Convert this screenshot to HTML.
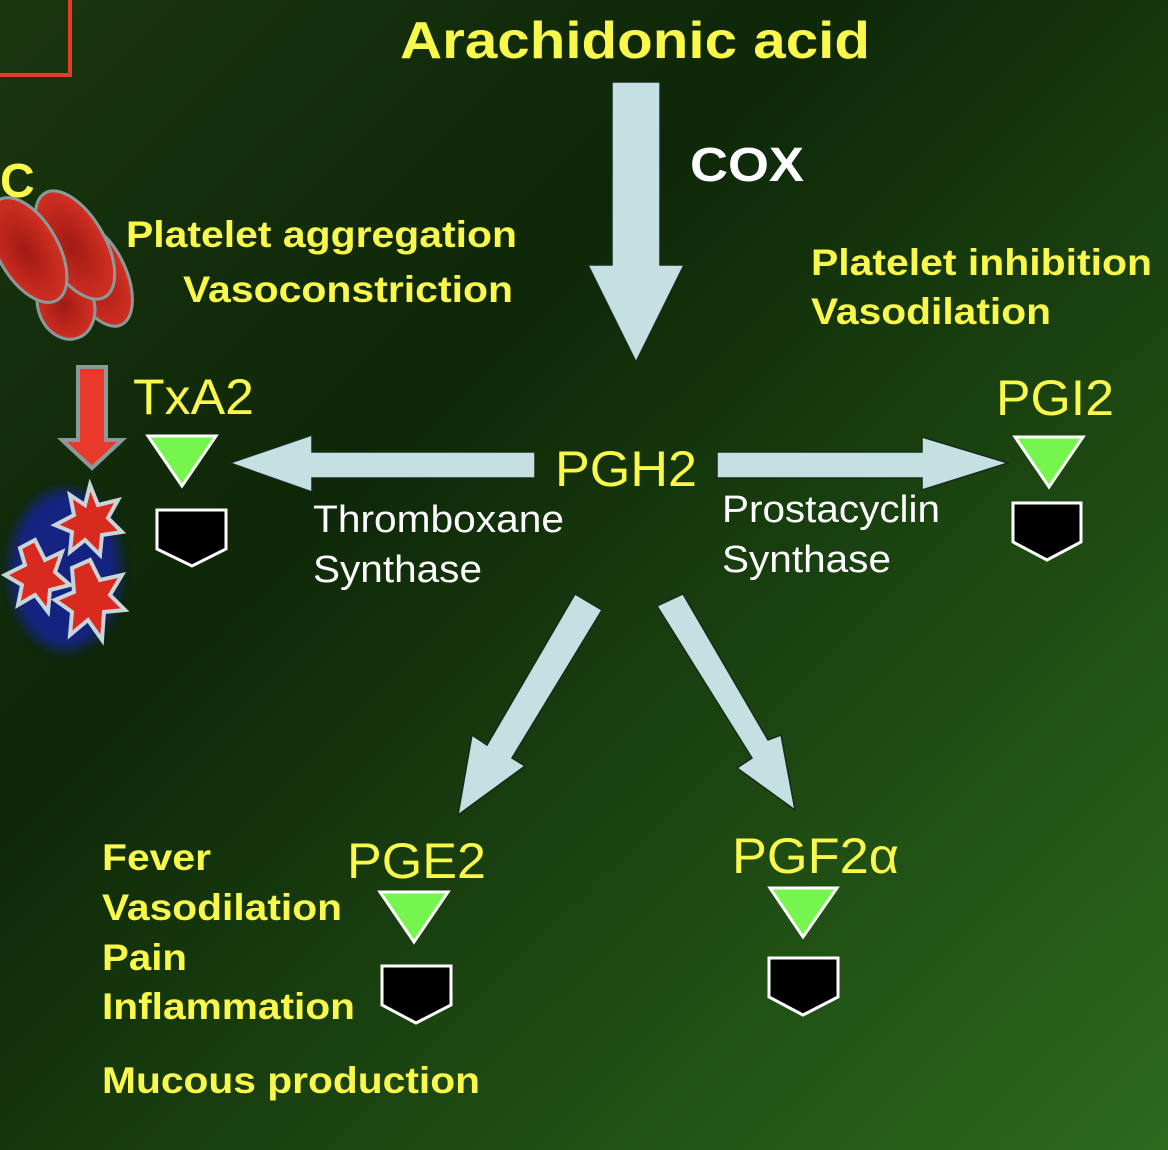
<!DOCTYPE html>
<html><head><meta charset="utf-8"><style>
html,body{margin:0;padding:0;width:1168px;height:1150px;overflow:hidden}
svg{display:block}
text{font-family:"Liberation Sans",sans-serif}
.y{fill:#f9f84b}.w{fill:#fff}.b{font-weight:bold}
</style></head><body>
<svg width="1168" height="1150" viewBox="0 0 1168 1150" xmlns="http://www.w3.org/2000/svg">
<defs>
<linearGradient id="bg" x1="0" y1="0" x2="1" y2="1">
<stop offset="0" stop-color="#1a360f"/><stop offset="0.35" stop-color="#0e2708"/><stop offset="1" stop-color="#2c6a1c"/>
</linearGradient>
<radialGradient id="rbc" cx="0.45" cy="0.5" r="0.6"><stop offset="0" stop-color="#a01a14"/><stop offset="1" stop-color="#d93324"/></radialGradient>
<filter id="blur"><feGaussianBlur stdDeviation="6"/></filter>
</defs>
<rect width="1168" height="1150" fill="url(#bg)"/>
<rect x="-5" y="-5" width="75" height="80" fill="none" stroke="#e8392a" stroke-width="4"/>
<g stroke="#1a2a1a" stroke-width="1.5" fill="#c4e0e2">
<polygon points="612,82 660,82 660,265 684,265 636,362 588,265 612,265"/>
<polygon points="535,452 535,478 312,478 312,492 230,463 312,435 312,452"/>
<polygon points="717,452 717,478 922,478 922,490 1008,463 922,437 922,452"/>
<polygon points="575,594 602,610 512,758 525,766 458,815 472,735 487,745"/>
<polygon points="657,606 683,594 768,740 781,735 795,810 737,768 752,758"/>
</g>
<!-- RBCs -->
<g stroke="#8a9a9a" stroke-width="3" fill="url(#rbc)">
<ellipse cx="98" cy="275" rx="28" ry="55" transform="rotate(-25 98 275)"/>
<ellipse cx="66" cy="305" rx="28" ry="35" transform="rotate(-20 66 305)"/>
<ellipse cx="75" cy="245" rx="30" ry="60" transform="rotate(-30 75 245)"/>
<ellipse cx="28" cy="250" rx="30" ry="58" transform="rotate(-30 28 250)"/>
</g>
<text x="0" y="197" class="y b" font-size="48">C</text>
<polygon points="78,367 106,367 106,440 122,440 92,468 62,440 78,440" fill="#e8392a" stroke="#8a9a9a" stroke-width="4"/>
<!-- platelets -->
<ellipse cx="65" cy="570" rx="55" ry="80" fill="#1520a0" filter="url(#blur)" opacity="0.8"/>
<g fill="#d92a20" stroke="#c8d4d8" stroke-width="4">
<polygon points="90,485 98,505 118,500 108,518 122,532 102,535 100,555 85,540 70,552 72,532 55,525 74,515 70,495 85,505"/>
<polygon points="35,540 45,560 62,552 55,572 70,585 50,590 48,612 35,595 18,605 22,585 5,575 25,565 20,548"/>
<polygon points="90,560 100,580 122,575 110,595 125,610 104,612 102,640 88,620 70,635 72,612 55,600 74,592 72,568"/>
</g>
<!-- receptors -->
<g stroke="#fff" stroke-width="3">
<polygon points="148,436 216,436 182,486" fill="#76f54e"/>
<polygon points="157,510 226,510 226,549 192,566 157,549" fill="#000"/>
<polygon points="1015,437 1083,437 1049,487" fill="#76f54e"/>
<polygon points="1013,503 1081,503 1081,542 1047,560 1013,542" fill="#000"/>
<polygon points="380,892 448,892 414,942" fill="#76f54e"/>
<polygon points="382,966 451,966 451,1005 416,1023 382,1005" fill="#000"/>
<polygon points="770,888 837,888 803,937" fill="#76f54e"/>
<polygon points="769,958 838,958 838,997 803,1015 769,997" fill="#000"/>
</g>
<text x="400" y="58" class="y b" font-size="52" textLength="470" lengthAdjust="spacingAndGlyphs">Arachidonic acid</text>
<text x="690" y="181" class="w b" font-size="48" textLength="114" lengthAdjust="spacingAndGlyphs">COX</text>
<g class="y b" font-size="37" lengthAdjust="spacingAndGlyphs">
<text x="126" y="247" textLength="391" lengthAdjust="spacingAndGlyphs">Platelet aggregation</text>
<text x="183" y="302" textLength="330" lengthAdjust="spacingAndGlyphs">Vasoconstriction</text>
<text x="811" y="275" textLength="341" lengthAdjust="spacingAndGlyphs">Platelet inhibition</text>
<text x="811" y="324" textLength="240" lengthAdjust="spacingAndGlyphs">Vasodilation</text>
<text x="102" y="870" textLength="109" lengthAdjust="spacingAndGlyphs">Fever</text>
<text x="102" y="920" textLength="240" lengthAdjust="spacingAndGlyphs">Vasodilation</text>
<text x="102" y="970" textLength="85" lengthAdjust="spacingAndGlyphs">Pain</text>
<text x="102" y="1019" textLength="253" lengthAdjust="spacingAndGlyphs">Inflammation</text>
<text x="102" y="1093" textLength="378" lengthAdjust="spacingAndGlyphs">Mucous production</text>
</g>
<g class="y" font-size="50">
<text x="133" y="414" textLength="121" lengthAdjust="spacingAndGlyphs">TxA2</text>
<text x="555" y="486" textLength="142" lengthAdjust="spacingAndGlyphs">PGH2</text>
<text x="996" y="415" textLength="118" lengthAdjust="spacingAndGlyphs">PGI2</text>
<text x="347" y="878" textLength="139" lengthAdjust="spacingAndGlyphs">PGE2</text>
<text x="732" y="873" textLength="167" lengthAdjust="spacingAndGlyphs">PGF2α</text>
</g>
<g class="w" font-size="38">
<text x="313" y="532" textLength="251" lengthAdjust="spacingAndGlyphs">Thromboxane</text>
<text x="313" y="582" textLength="169" lengthAdjust="spacingAndGlyphs">Synthase</text>
<text x="722" y="522" textLength="218" lengthAdjust="spacingAndGlyphs">Prostacyclin</text>
<text x="722" y="572" textLength="169" lengthAdjust="spacingAndGlyphs">Synthase</text>
</g>
</svg>
</body></html>
